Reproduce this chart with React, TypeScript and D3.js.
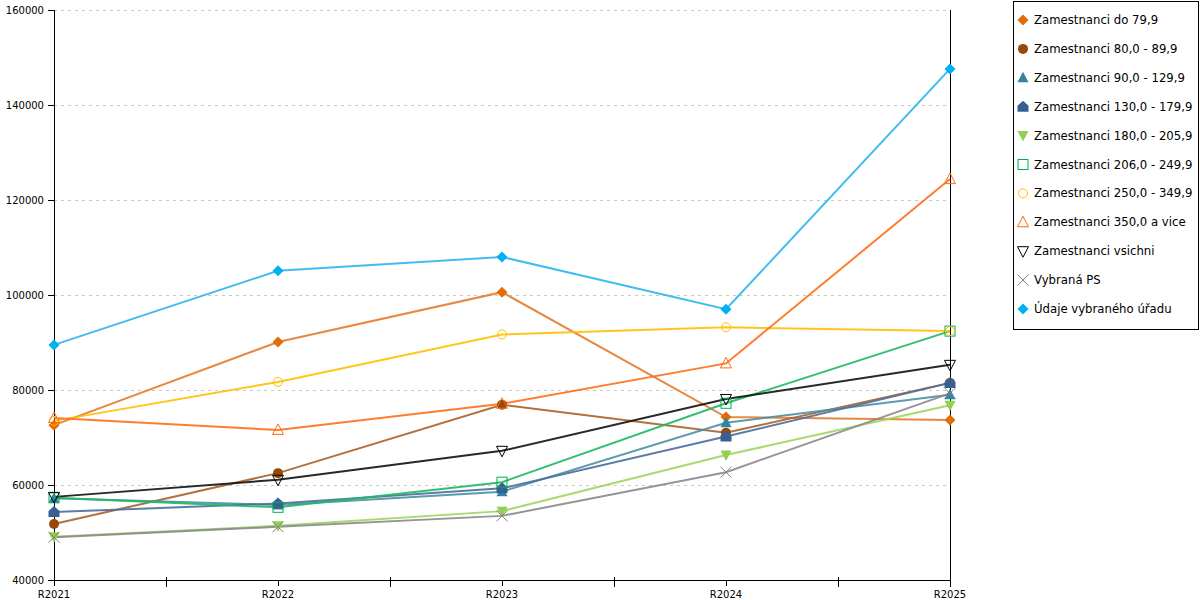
import React from "react";
import * as d3 from "d3";

const years = ["R2021", "R2022", "R2023", "R2024", "R2025"];

const do79 = [72600, 90100, 100600, 74300, 73700];
const z80_89 = [51800, 62500, 76900, 71000, 81500];
const z90_129 = [57200, 55800, 58600, 73100, 79000];
const z130_179 = [54300, 56100, 59300, 70200, 81500];
const z180_205 = [49100, 51400, 54500, 66300, 76800];
const z206_249 = [57300, 55300, 60600, 77200, 92400];
const z250_349 = [73500, 81700, 91700, 93200, 92400];
const z350plus = [74100, 71600, 77100, 85600, 124400];
const vsichni = [57500, 61100, 67200, 78100, 85300];
const vybranaPS = [49000, 51200, 53500, 62700, 79300];
const urad = [89500, 105100, 108000, 97000, 147600];

const yTicks = [40000, 60000, 80000, 100000, 120000, 140000, 160000];

type Marker = "diamond" | "circle" | "triangle" | "house" | "triangleDown" | "square" | "circleOpen" | "triangleOpen" | "triangleDownOpen" | "cross";

const series: { name: string; values: number[]; line: string; marker: string; shape: Marker }[] = [
    { name: "Zamestnanci do 79,9", values: do79, line: "#e57a2c", marker: "#e36c09", shape: "diamond" },
    { name: "Zamestnanci 80,0 - 89,9", values: z80_89, line: "#ab6028", marker: "#984807", shape: "circle" },
    { name: "Zamestnanci 90,0 - 129,9", values: z90_129, line: "#4a8fa6", marker: "#31859c", shape: "triangle" },
    { name: "Zamestnanci 130,0 - 179,9", values: z130_179, line: "#4a6e9c", marker: "#366092", shape: "house" },
    { name: "Zamestnanci 180,0 - 205,9", values: z180_205, line: "#9ad65e", marker: "#92d050", shape: "triangleDown" },
    { name: "Zamestnanci 206,0 - 249,9", values: z206_249, line: "#1db95e", marker: "#00b050", shape: "square" },
    { name: "Zamestnanci 250,0 - 349,9", values: z250_349, line: "#ffc000", marker: "#ffc000", shape: "circleOpen" },
    { name: "Zamestnanci 350,0 a vice", values: z350plus, line: "#ff6f1a", marker: "#ff6a10", shape: "triangleOpen" },
    { name: "Zamestnanci vsichni", values: vsichni, line: "#111111", marker: "#000000", shape: "triangleDownOpen" },
    { name: "Vybraná PS", values: vybranaPS, line: "#8a8a8a", marker: "#808080", shape: "cross" },
    { name: "Údaje vybraného úřadu", values: urad, line: "#2bb5ec", marker: "#00b0f0", shape: "diamond" },
];

const MarkerShape: React.FC<{ x: number; y: number; shape: Marker; color: string }> = ({ x, y, shape, color }) => {
    const t = `translate(${x},${y})`;
    switch (shape) {
        case "diamond":
            return <path transform={t} d="M0,-5.5L5.5,0L0,5.5L-5.5,0Z" fill={color} />;
        case "circle":
            return <circle cx={x} cy={y} r={5} fill={color} />;
        case "triangle":
            return <path transform={t} d="M0,-6L5.5,4.5L-5.5,4.5Z" fill={color} />;
        case "house":
            return <path transform={t} d="M0,-6L5.5,-1L5.5,5L-5.5,5L-5.5,-1Z" fill={color} />;
        case "triangleDown":
            return <path transform={t} d="M-5.5,-4.5L5.5,-4.5L0,6Z" fill={color} />;
        case "square":
            return <rect x={x - 5} y={y - 5} width={10} height={10} fill="none" stroke={color} strokeWidth={1} />;
        case "circleOpen":
            return <circle cx={x} cy={y} r={4.5} fill="none" stroke={color} strokeWidth={1} />;
        case "triangleOpen":
            return <path transform={t} d="M0,-6L5.5,4.5L-5.5,4.5Z" fill="none" stroke={color} strokeWidth={1} />;
        case "triangleDownOpen":
            return <path transform={t} d="M-5.5,-4.5L5.5,-4.5L0,6Z" fill="none" stroke={color} strokeWidth={1} />;
        case "cross":
            return <path transform={t} d="M-5.5,-5.5L5.5,5.5M5.5,-5.5L-5.5,5.5" fill="none" stroke={color} strokeWidth={1} />;
    }
};

export default function App() {
    const x = d3.scalePoint<string>().domain(years).range([54, 950]);
    const y = d3.scaleLinear().domain([40000, 160000]).range([580, 10]);
    const step = x.step();

    const line = d3
        .line<number>()
        .x((_, i) => x(years[i]) ?? 0)
        .y((d) => y(d));

    const font = "'DejaVu Sans', Verdana, sans-serif";

    return (
        <div style={{ position: "fixed", left: 0, top: 0 }}>
            <svg width={1200} height={600} style={{ display: "block", background: "#fff" }} fontFamily={font}>
                {/* grid */}
                {yTicks.slice(1).map((t) => (
                    <line key={t} x1={54} x2={950} y1={y(t) + 0.5} y2={y(t) + 0.5} stroke="#c8c8c8" strokeDasharray="3,4" />
                ))}

                {/* y axis */}
                <line x1={54.5} x2={54.5} y1={10} y2={580} stroke="#000" />
                {yTicks.map((t) => (
                    <g key={t}>
                        <line x1={48} x2={54} y1={y(t) + 0.5} y2={y(t) + 0.5} stroke="#000" />
                        <text x={44} y={y(t) + 4} textAnchor="end" fontSize={10} fill="#000">
                            {t}
                        </text>
                    </g>
                ))}

                {/* right border */}
                <line x1={950.5} x2={950.5} y1={10} y2={587} stroke="#000" />

                {/* x axis */}
                <line x1={54} x2={951} y1={580.5} y2={580.5} stroke="#000" />
                {years.map((yr) => (
                    <g key={yr}>
                        <line x1={(x(yr) ?? 0) + 0.5} x2={(x(yr) ?? 0) + 0.5} y1={580} y2={586} stroke="#000" />
                        <text x={x(yr)} y={598} textAnchor="middle" fontSize={10} fill="#000">
                            {yr}
                        </text>
                    </g>
                ))}
                {years.slice(1).map((yr) => (
                    <line
                        key={"m" + yr}
                        x1={(x(yr) ?? 0) - step / 2 + 0.5}
                        x2={(x(yr) ?? 0) - step / 2 + 0.5}
                        y1={577}
                        y2={587}
                        stroke="#000"
                    />
                ))}

                {/* lines */}
                {series.map((s) => (
                    <path key={s.name} d={line(s.values) ?? ""} fill="none" stroke={s.line} strokeWidth={2} strokeOpacity={0.9} />
                ))}

                {/* markers */}
                {series.map((s) =>
                    s.values.map((v, i) => (
                        <MarkerShape key={s.name + i} x={x(years[i]) ?? 0} y={y(v)} shape={s.shape} color={s.marker} />
                    ))
                )}

                {/* legend */}
                <rect x={1013.5} y={1.5} width={185} height={328} fill="#fff" stroke="#000" />
                {series.map((s, i) => {
                    const ly = 20 + i * 28.9;
                    return (
                        <g key={"l" + s.name}>
                            <MarkerShape x={1023} y={ly} shape={s.shape} color={s.marker} />
                            <text x={1034} y={ly + 4} fontSize={11.7} fill="#000">
                                {s.name}
                            </text>
                        </g>
                    );
                })}
            </svg>
        </div>
    );
}
